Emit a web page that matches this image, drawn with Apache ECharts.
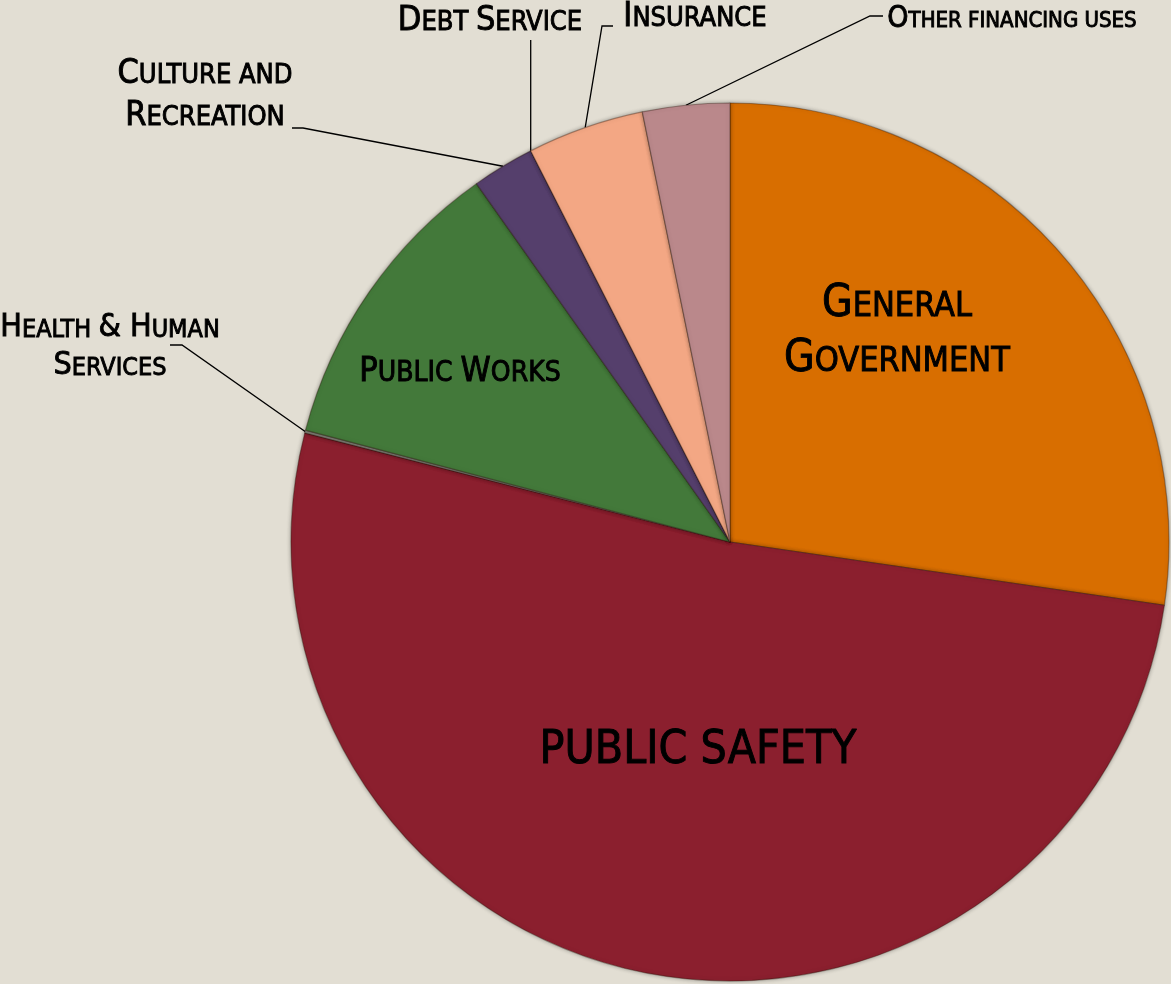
<!DOCTYPE html>
<html>
<head>
<meta charset="utf-8">
<script src="https://cdn.jsdelivr.net/npm/echarts@6/dist/echarts.min.js"></script>
<style>
  html, body { margin: 0; padding: 0; background: #E2DED3; }
  #chart { width: 1171px; height: 984px; }
</style>
</head>
<body>
<div id="chart"></div>
<script>
// Budget share by function (percent of total), clockwise from 12 o'clock
const categories = [
  'General\nGovernment',
  'PUBLIC SAFETY',
  'Health & Human\nServices',
  'Public Works',
  'Culture and\nRecreation',
  'Debt Service',
  'Insurance',
  'Other financing uses'
];
const shares = [27.3, 51.7, 0.1, 11.1, 2.3, 0, 4.3, 3.2];

// Styling
const sliceColors = ['#D86E00', '#8B1F2E', '#8A8A80', '#43793A', '#553F6C', '#6A5A7A', '#F3A784', '#BA888B'];
const FONT = "'Liberation Sans Narrow', 'DejaVu Sans Condensed', 'Roboto Condensed', sans-serif";
// [capital size, small-cap size, line height]
const labelSizes = [[44, 34, 55], [46, 46, 56], [32, 25, 38], [34, 28, 40], [34, 27, 42], [34, 27, 40], [34, 27, 40], [30, 22, 36]];
const insideLabel = [true, true, false, true, false, false, false, false];
// label block centre and leader-line bends
const labelSpots = [
  { x: 897, y: 332 },
  { x: 698, y: 751 },
  { x: 110, y: 347, bend: [[182, 345], [170, 345]] },
  { x: 460, y: 372 },
  { x: 205, y: 95, bend: [[303, 128], [292, 128]] },
  { x: 490, y: 21, riseTo: 40 },
  { x: 695, y: 17, bend: [[602, 26], [613, 26]] },
  { x: 1012, y: 19, bend: [[870, 16], [883, 16]] }
];

// Render text as small capitals: capitals stay large, lower-case letters become small capitals
function smallCaps(text) {
  return text.split('\n').map(function (line) {
    let out = '', cur = '', cls = null;
    for (const ch of line) {
      let c;
      if (/[a-z]/.test(ch)) c = 's';
      else if (/\s/.test(ch) && cls) c = cls;
      else c = 'b';
      if (c !== cls && cur) { out += '{' + cls + '|' + cur + '}'; cur = ''; }
      cls = c;
      cur += ch.toUpperCase();
    }
    if (cur) out += '{' + cls + '|' + cur + '}';
    return out;
  }).join('\n');
}

function richFor(i) {
  const [B, S, L] = labelSizes[i];
  const p = Math.round(0.62 * (B - S));
  const ink = { fontFamily: FONT, color: '#000', textBorderColor: '#000', textBorderWidth: 0.9 };
  return {
    b: Object.assign({ fontSize: B, lineHeight: L }, ink),
    s: Object.assign({ fontSize: S, lineHeight: L - p, padding: [p, 0, 0, 0] }, ink)
  };
}

const pieData = categories.map(function (name, i) {
  return {
    name: name,
    value: shares[i],
    itemStyle: { color: sliceColors[i] },
    label: {
      show: true,
      position: insideLabel[i] ? 'inside' : 'outside',
      formatter: smallCaps(name),
      rich: richFor(i),
      color: '#000'
    },
    labelLine: { show: !insideLabel[i] }
  };
});

const chart = echarts.init(document.getElementById('chart'), null, { renderer: 'canvas' });
chart.setOption({
  backgroundColor: '#E2DED3',
  animation: false,
  series: [{
    type: 'pie',
    center: [730, 542],
    radius: 439,
    startAngle: 90,
    clockwise: true,
    avoidLabelOverlap: false,
    data: pieData,
    itemStyle: {
      borderColor: 'rgba(40,20,10,0.35)',
      borderWidth: 1.2,
      shadowColor: 'rgba(0,0,0,0.35)',
      shadowBlur: 4
    },
    labelLine: {
      lineStyle: { color: '#000', width: 1.3 },
      length: 20,
      length2: 10
    },
    emphasis: { disabled: true },
    labelLayout: function (params) {
      const spot = labelSpots[params.dataIndex];
      const res = { x: spot.x, y: spot.y, align: 'center', verticalAlign: 'middle' };
      const pts = params.labelLinePoints;
      if (pts && pts.length) {
        const p0 = pts[0];
        if (spot.bend) res.labelLinePoints = [p0].concat(spot.bend);
        else if (spot.riseTo != null) res.labelLinePoints = [p0, [p0[0], spot.riseTo]];
      }
      return res;
    }
  }]
});
</script>
</body>
</html>
